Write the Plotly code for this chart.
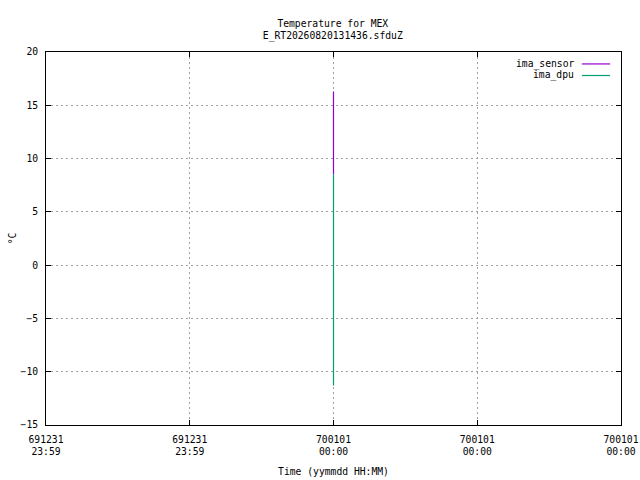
import plotly.graph_objects as go

# time offsets (minutes from 700101 00:00) and temperatures
series_names = ['ima_sensor', 'ima_dpu']
sensor_t = [0, 0]
sensor_temp = [16.3, 8.5]
dpu_t = [0, 0]
dpu_temp = [8.5, -11.3]
colors = ['#9400d3', '#009e73']

tick_pos = [-2, -1, 0, 1, 2]
tick_text = ['691231<br>23:59', '691231<br>23:59', '700101<br>00:00',
             '700101<br>00:00', '700101<br>00:00']
y_ticks = [-15, -10, -5, 0, 5, 10, 15, 20]

font_name = 'DejaVu Sans Mono'
fsize = 9.7

fig = go.Figure()
fig.add_trace(go.Scatter(x=sensor_t, y=sensor_temp, mode='lines', name=series_names[0],
                         line=dict(color=colors[0], width=1.2)))
fig.add_trace(go.Scatter(x=dpu_t, y=dpu_temp, mode='lines', name=series_names[1],
                         line=dict(color=colors[1], width=1.2)))

# gnuplot style key: text on the left, line sample on the right
key_y = [0.968, 0.937]
for i in range(len(series_names)):
    fig.add_annotation(xref='paper', yref='paper', x=0.921, y=key_y[i],
                       text=series_names[i], showarrow=False, xanchor='right',
                       yanchor='middle', font=dict(family=font_name, size=fsize, color='black'))
    fig.add_shape(type='line', xref='paper', yref='paper', x0=0.932, x1=0.981,
                  y0=key_y[i], y1=key_y[i], line=dict(color=colors[i], width=1.2))

axis_common = dict(
    showline=True, linecolor='black', linewidth=1, mirror='allticks',
    ticks='inside', ticklen=5, tickcolor='black', automargin=False,
    showgrid=True, gridcolor='#a0a0a0', griddash='2px,3px', gridwidth=1,
    zeroline=False, tickfont=dict(family=font_name, size=fsize, color='black'),
)

fig.update_layout(
    width=640, height=480,
    plot_bgcolor='white', paper_bgcolor='white',
    showlegend=False,
    margin=dict(l=46, r=19, t=52, b=55),
    title=dict(text='Temperature for MEX<br>E_RT20260820131436.sfduZ',
               x=0.52, xanchor='center', y=0.944, yanchor='middle',
               font=dict(family=font_name, size=fsize, color='black')),
    xaxis=dict(range=[-2, 2], tickvals=tick_pos, ticktext=tick_text,
               ticklabelstandoff=5,
               title=dict(text='Time (yymmdd HH:MM)', standoff=11,
                          font=dict(family=font_name, size=fsize, color='black')),
               **axis_common),
    yaxis=dict(range=[-15, 20], tickvals=y_ticks, ticklabelstandoff=5,
               title=dict(text='°C', standoff=2,
                          font=dict(family=font_name, size=fsize, color='black')),
               **axis_common),
)

# drop the default page margin so the 640x480 figure fills the window
fig.write_html('out.html', config={'displayModeBar': False},
               post_script="document.body.style.margin='0';"
                           "document.body.style.overflow='hidden';")
